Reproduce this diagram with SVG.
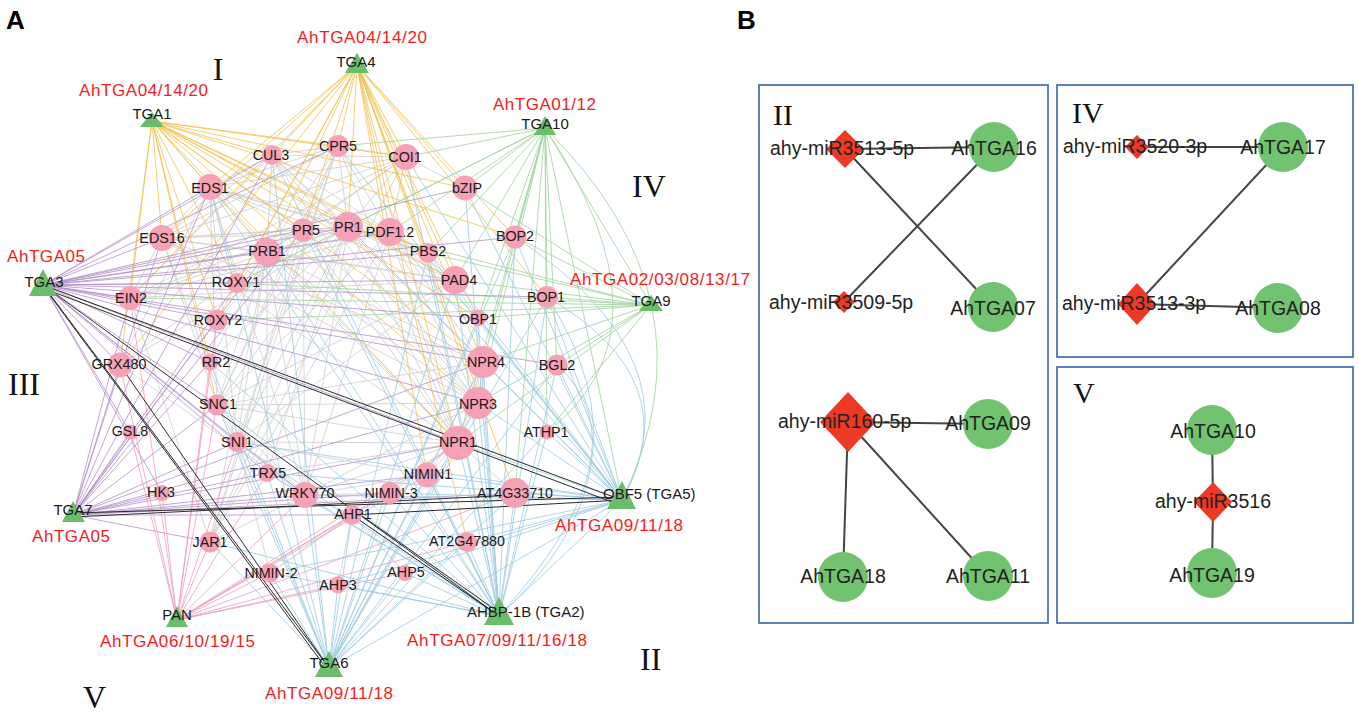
<svg xmlns="http://www.w3.org/2000/svg" width="1358" height="715" viewBox="0 0 1358 715">
<style>
.e{fill:none;stroke-width:0.9}
.gy{stroke:#d3d3d3}
.or{stroke:#f2bf48;stroke-opacity:.85}
.gr{stroke:#9fd49b;stroke-opacity:.9}
.pu{stroke:#b08ac8;stroke-opacity:.85}
.pk{stroke:#ec98ba;stroke-opacity:.85}
.bl{stroke:#9ccbe2;stroke-opacity:.9}
.bk{stroke:#2b2b2b;stroke-width:1}
.be{fill:none;stroke:#454545;stroke-width:2}
.p{fill:#f6a1b6}
.t{fill:#6cbd6a}
.c{fill:#71c36f}
.d{fill:#ee3a25}
.lb{font-family:"Liberation Sans",Arial,sans-serif;font-size:14.3px;fill:#1a1a1a;text-anchor:middle}
.tl{font-family:"Liberation Sans",Arial,sans-serif;font-size:15px;fill:#1a1a1a}
.rl{font-family:"Liberation Sans",Arial,sans-serif;font-size:17px;fill:#f41c1c}
.rn{font-family:"Liberation Serif","Times New Roman",serif;font-size:32px;fill:#111}
.bt{font-family:"Liberation Sans",Arial,sans-serif;font-size:19.5px;fill:#222}
.bm{font-family:"Liberation Sans",Arial,sans-serif;font-size:19.5px;fill:#222;text-anchor:middle}
.hd{font-family:"Liberation Sans",Arial,sans-serif;font-size:26px;font-weight:bold;fill:#000}
.box{fill:none;stroke:#4f74b5;stroke-width:1.8}
</style>
<rect width="1358" height="715" fill="#fff"/>
<text class="hd" x="6" y="29">A</text>
<text class="hd" x="737" y="29">B</text>
<g id="connectors">
<path class="e gy" d="M348 227L272 155M348 227L338 146M348 227L406 157M348 227L210 187M348 227L162 238M348 227L303 230M348 227L390 232M348 227L267 252M348 227L428 253M348 227L237 283M348 227L455 280M348 227L130 298M348 227L458 443M348 227L478 403M348 227L483 362M348 227L217 405M348 227L237 442M348 227L305 495M348 227L210 542M348 227L120 365M348 227L210 362M348 227L267 473M303 230L338 146M303 230L210 187M303 230L162 238M303 230L267 252M303 230L390 232M303 230L458 443M303 230L478 403M303 230L217 405M303 230L305 495M303 230L217 320M303 230L210 542M303 230L130 298M303 230L406 157M267 252L210 187M267 252L162 238M267 252L272 155M267 252L390 232M267 252L458 443M267 252L478 403M267 252L483 362M267 252L217 405M267 252L237 442M267 252L305 495M267 252L455 280M267 252L237 283M267 252L210 542M267 252L120 365M267 252L267 473M267 252L210 362M267 252L406 157M267 252L338 146M390 232L406 157M390 232L338 146M390 232L210 187M390 232L272 155M390 232L458 443M390 232L478 403M390 232L483 362M390 232L455 280M390 232L428 253M390 232L210 542M390 232L305 495M390 232L217 405M390 232L130 298M390 232L478 318M390 232L162 238M210 187L272 155M210 187L338 146M210 187L162 238M210 187L455 280M210 187L458 443M210 187L217 405M210 187L237 442M210 187L305 495M210 187L237 283M210 187L120 365M210 187L428 253M210 187L406 157M458 443L478 403M458 443L483 362M458 443L427 475M458 443L390 493M458 443L270 573M458 443L305 495M458 443L237 442M458 443L217 405M458 443L267 473M458 443L338 146M458 443L162 238M458 443L515 493M458 443L352 515M458 443L272 155M478 403L483 362M478 403L427 475M478 403L272 155M478 403L217 405M478 403L305 495M478 403L478 318M478 403L162 238M483 362L272 155M483 362L162 238M483 362L427 475M483 362L217 405M338 146L406 157M338 146L272 155M338 146L217 405M338 146L162 238M338 146L210 542M338 146L237 442M406 157L272 155M406 157L210 542M406 157L130 298M406 157L465 188M406 157L162 238M162 238L217 405M162 238L237 442M162 238L455 280M162 238L130 298M162 238L237 283M162 238L272 155M455 280L217 405M455 280L130 298M455 280L428 253M455 280L237 442M305 495L217 405M305 495L237 442M305 495L427 475M305 495L390 493M305 495L267 473M305 495L210 542M305 495L120 365M305 495L352 515M237 442L217 405M237 442L427 475M237 442L270 573M130 298L210 542M130 298L272 155M352 515L338 585M352 515L405 573M352 515L270 573"/>
<path class="e or" d="M152 121L272 155M152 121L338 146M152 121L406 157M152 121L210 187M152 121L465 188M152 121L162 238M152 121L303 230M152 121L348 227M152 121L390 232M152 121L267 252M152 121L515 237M152 121L428 253M152 121L237 283M152 121L455 280M152 121L130 298M152 121L217 320M152 121L483 362M152 121L120 365M152 121L210 362M152 121L478 403M152 121L458 443M152 121L217 405M152 121L478 318M357 65L272 155M357 65L210 187M357 65L162 238M357 65L303 230M357 65L348 227M357 65L390 232M357 65L267 252M357 65L338 146M357 65L406 157M357 65L465 188M357 65L428 253M357 65L455 280M357 65L515 237M357 65L547 297M357 65L237 283M357 65L217 320M357 65L130 298M357 65L120 365M357 65L458 443M357 65L478 403M357 65L483 362M357 65L478 318M357 65L467 542M357 65L515 493M357 65L427 475"/>
<path class="e gr" d="M545 128L465 188M545 128L406 157M545 128L348 227M545 128L390 232M545 128L515 237M545 128L547 297M545 128L455 280M545 128L478 318M545 128L483 362M545 128L478 403M545 128L458 443M545 128L557 365M545 128L547 432M545 128L428 253M545 128L651 305M545 128L622 500M545 128L515 493M545 128L237 283M545 128L338 146M545 128Q720 300 622 500M545 128Q680 330 547 432M651 305L547 297M651 305L515 237M651 305L557 365M651 305L478 318M651 305L483 362M651 305L478 403M651 305L455 280M651 305L458 443M651 305L428 253M651 305L465 188M651 305L547 432M651 305L237 283M651 305L348 227M651 305L217 320M651 305L130 298"/>
<path class="e pu" d="M43 285L162 238M43 285L210 187M43 285L272 155M43 285L267 252M43 285L303 230M43 285L348 227M43 285L237 283M43 285L130 298M43 285L217 320M43 285L120 365M43 285L210 362M43 285L217 405M43 285L237 442M43 285L130 432M43 285L465 188M43 285L390 232M43 285L455 280M43 285L547 297M43 285L478 318M43 285L483 362M43 285L557 365M43 285L478 403M43 285L458 443M43 285L267 473M43 285L305 495M43 285L162 493M43 285L515 237M43 285L428 253M43 285L338 146M73 515L120 365M73 515L130 432M73 515L130 298M73 515L162 238M73 515L162 493M73 515L267 473M73 515L305 495M73 515L237 442M73 515L217 405M73 515L210 362M73 515L217 320M73 515L390 493M73 515L427 475M73 515L352 515M73 515L458 443M73 515L478 403M73 515L515 493M73 515L267 252M73 515L237 283M73 515L210 542M73 515L483 362M73 515L210 187M73 515L303 230M73 515L272 155"/>
<path class="e pk" d="M177 620L162 493M177 620L210 542M177 620L270 573M177 620L130 432M177 620L120 365M177 620L237 442M177 620L267 473M177 620L305 495M177 620L338 585M177 620L352 515M177 620L390 493M177 620L427 475M177 620L217 405M177 620L210 362M177 620L217 320M177 620L405 573M177 620L467 542M177 620L458 443M177 620L130 298M177 620L515 493"/>
<path class="e bl" d="M329 668L270 573M329 668L338 585M329 668L405 573M329 668L352 515M329 668L305 495M329 668L390 493M329 668L427 475M329 668L458 443M329 668L478 403M329 668L483 362M329 668L515 493M329 668L467 542M329 668L267 473M329 668L237 442M329 668L217 405M329 668L210 542M329 668L547 297M329 668L557 365M329 668L547 432M329 668L478 318M329 668L455 280M329 668L272 155M329 668L210 187M329 668L210 362M329 668L622 500M329 668L428 253M329 668L515 237M499 616L458 443M499 616L478 403M499 616L483 362M499 616L515 493M499 616L467 542M499 616L405 573M499 616L338 585M499 616L427 475M499 616L390 493M499 616L352 515M499 616L305 495M499 616L267 473M499 616L237 442M499 616L217 405M499 616L547 297M499 616L515 237M499 616L547 432M499 616L557 365M499 616L478 318M499 616L455 280M499 616L428 253M499 616L270 573M499 616L210 362M499 616L272 155M499 616L210 187M499 616L267 252M499 616L303 230M499 616L406 157M499 616L465 188M499 616L210 542M622 500L547 297M622 500L515 237M622 500L483 362M622 500L478 403M622 500L458 443M622 500L547 432M622 500L557 365M622 500L515 493M622 500L427 475M622 500L390 493M622 500L467 542M622 500L405 573M622 500L305 495M622 500L478 318M622 500L455 280M622 500L428 253M622 500L465 188M622 500L406 157M622 500L390 232M622 500L348 227M622 500L267 473M622 500L237 442M622 500L338 585M622 500L270 573M622 500L338 146M622 500L499 616M622 500Q690 380 547 297M622 500Q700 360 515 237M499 616Q660 470 547 297M499 616Q650 450 557 365"/>
<path class="e bk" d="M43 285L622 500M45 289L620 505M43 285L499 616M43 285L329 668M46 290L326 668M120 365L329 668M73 513L622 497M73 517L515 495M352 515L622 500M352 515L499 616M355 511L497 611"/>
<path class="be" d="M845 149L994 147M845 149L993 307M844 302L994 147M848 422L988 424M848 422L843 577M848 422L988 576M1137 147L1283 147M1283 147L1137 304M1137 304L1278 308M1212 430L1213 502M1213 502L1212 573"/>
</g>
<g id="n-CUL3"><circle class="p" cx="272" cy="155" r="10"/><text class="lb" x="271" y="160">CUL3</text></g>
<g id="n-CPR5"><circle class="p" cx="338" cy="146" r="11"/><text class="lb" x="338" y="151">CPR5</text></g>
<g id="n-COI1"><circle class="p" cx="406" cy="157" r="13"/><text class="lb" x="405" y="162">COI1</text></g>
<g id="n-EDS1"><circle class="p" cx="210" cy="187" r="13"/><text class="lb" x="210" y="193">EDS1</text></g>
<g id="n-bZIP"><circle class="p" cx="465" cy="188" r="12.5"/><text class="lb" x="467" y="193">bZIP</text></g>
<g id="n-EDS16"><circle class="p" cx="162" cy="238" r="13"/><text class="lb" x="162" y="243">EDS16</text></g>
<g id="n-PR5"><circle class="p" cx="303" cy="230" r="11.5"/><text class="lb" x="306" y="235">PR5</text></g>
<g id="n-PR1"><circle class="p" cx="348" cy="227" r="15"/><text class="lb" x="348" y="232">PR1</text></g>
<g id="n-PDF1.2"><circle class="p" cx="390" cy="232" r="14"/><text class="lb" x="390" y="237">PDF1.2</text></g>
<g id="n-PRB1"><circle class="p" cx="267" cy="252" r="14"/><text class="lb" x="267" y="256">PRB1</text></g>
<g id="n-BOP2"><circle class="p" cx="515" cy="237" r="11.5"/><text class="lb" x="515" y="241">BOP2</text></g>
<g id="n-PBS2"><circle class="p" cx="428" cy="253" r="10"/><text class="lb" x="428" y="256">PBS2</text></g>
<g id="n-ROXY1"><circle class="p" cx="237" cy="283" r="10"/><text class="lb" x="236" y="287">ROXY1</text></g>
<g id="n-PAD4"><circle class="p" cx="455" cy="280" r="14"/><text class="lb" x="459" y="285">PAD4</text></g>
<g id="n-EIN2"><circle class="p" cx="130" cy="298" r="12"/><text class="lb" x="131" y="303">EIN2</text></g>
<g id="n-BOP1"><circle class="p" cx="547" cy="297" r="11"/><text class="lb" x="546" y="302">BOP1</text></g>
<g id="n-OBP1"><circle class="p" cx="478" cy="318" r="8.5"/><text class="lb" x="478" y="324">OBP1</text></g>
<g id="n-ROXY2"><circle class="p" cx="217" cy="320" r="10.5"/><text class="lb" x="218" y="325">ROXY2</text></g>
<g id="n-NPR4"><circle class="p" cx="483" cy="362" r="16"/><text class="lb" x="486" y="367">NPR4</text></g>
<g id="n-BGL2"><circle class="p" cx="557" cy="365" r="10.5"/><text class="lb" x="557" y="370">BGL2</text></g>
<g id="n-GRX480"><circle class="p" cx="120" cy="365" r="12.5"/><text class="lb" x="119" y="369">GRX480</text></g>
<g id="n-RR2"><circle class="p" cx="210" cy="362" r="8.5"/><text class="lb" x="216" y="367">RR2</text></g>
<g id="n-SNC1"><circle class="p" cx="217" cy="405" r="10.5"/><text class="lb" x="218" y="409">SNC1</text></g>
<g id="n-NPR3"><circle class="p" cx="478" cy="403" r="16"/><text class="lb" x="478" y="409">NPR3</text></g>
<g id="n-ATHP1"><circle class="p" cx="547" cy="432" r="7.5"/><text class="lb" x="546" y="437">ATHP1</text></g>
<g id="n-NPR1"><circle class="p" cx="458" cy="443" r="17"/><text class="lb" x="458" y="447">NPR1</text></g>
<g id="n-GSL8"><circle class="p" cx="130" cy="432" r="7.5"/><text class="lb" x="130" y="436">GSL8</text></g>
<g id="n-SNI1"><circle class="p" cx="237" cy="442" r="10"/><text class="lb" x="237" y="447">SNI1</text></g>
<g id="n-TRX5"><circle class="p" cx="267" cy="473" r="9"/><text class="lb" x="268" y="478">TRX5</text></g>
<g id="n-NIMIN1"><circle class="p" cx="427" cy="475" r="12.5"/><text class="lb" x="428" y="479">NIMIN1</text></g>
<g id="n-HK3"><circle class="p" cx="162" cy="493" r="8"/><text class="lb" x="161" y="497">HK3</text></g>
<g id="n-WRKY70"><circle class="p" cx="305" cy="495" r="13"/><text class="lb" x="305" y="498">WRKY70</text></g>
<g id="n-NIMIN-3"><circle class="p" cx="390" cy="493" r="11"/><text class="lb" x="391" y="498">NIMIN-3</text></g>
<g id="n-AT4G33710"><circle class="p" cx="515" cy="493" r="15"/><text class="lb" x="515" y="498">AT4G33710</text></g>
<g id="n-AHP1"><circle class="p" cx="352" cy="515" r="10"/><text class="lb" x="353" y="519">AHP1</text></g>
<g id="n-JAR1"><circle class="p" cx="210" cy="542" r="10.5"/><text class="lb" x="210" y="547">JAR1</text></g>
<g id="n-AT2G47880"><circle class="p" cx="467" cy="542" r="10"/><text class="lb" x="467" y="546">AT2G47880</text></g>
<g id="n-NIMIN-2"><circle class="p" cx="270" cy="573" r="9.5"/><text class="lb" x="271" y="578">NIMIN-2</text></g>
<g id="n-AHP3"><circle class="p" cx="338" cy="585" r="8.5"/><text class="lb" x="338" y="590">AHP3</text></g>
<g id="n-AHP5"><circle class="p" cx="405" cy="573" r="8"/><text class="lb" x="406" y="577">AHP5</text></g>
<g id="t-TGA4"><polygon class="t" points="357,53 369,73 345,73"/><text class="tl" x="356" y="67" text-anchor="middle">TGA4</text><text class="rl" x="297" y="43" textLength="130">AhTGA04/14/20</text></g>
<g id="t-TGA1"><polygon class="t" points="152,112 164,127 140,127"/><text class="tl" x="152" y="119" text-anchor="middle">TGA1</text><text class="rl" x="79" y="96" textLength="129">AhTGA04/14/20</text></g>
<g id="t-TGA10"><polygon class="t" points="545,116 556,135 534,135"/><text class="tl" x="545" y="129" text-anchor="middle">TGA10</text><text class="rl" x="493" y="110" textLength="103">AhTGA01/12</text></g>
<g id="t-TGA3"><polygon class="t" points="43,269 57,296 29,296"/><text class="tl" x="44" y="287" text-anchor="middle">TGA3</text><text class="rl" x="7" y="262" textLength="78">AhTGA05</text></g>
<g id="t-TGA9"><polygon class="t" points="651,295 663,311 639,311"/><text class="tl" x="651" y="306" text-anchor="middle">TGA9</text><text class="rl" x="570" y="285" textLength="180">AhTGA02/03/08/13/17</text></g>
<g id="t-TGA7"><polygon class="t" points="73,501 85,522 62,522"/><text class="tl" x="73" y="515" text-anchor="middle">TGA7</text><text class="rl" x="32" y="542" textLength="78">AhTGA05</text></g>
<g id="t-PAN"><polygon class="t" points="177,606 188,627 166,627"/><text class="tl" x="177" y="620" text-anchor="middle">PAN</text><text class="rl" x="100" y="647" textLength="155">AhTGA06/10/19/15</text></g>
<g id="t-TGA6"><polygon class="t" points="329,651 343,677 315,677"/><text class="tl" x="329" y="668" text-anchor="middle">TGA6</text><text class="rl" x="265" y="699" textLength="128">AhTGA09/11/18</text></g>
<g id="t-OBF5"><polygon class="t" points="622,481 636,509 607,509"/><text class="tl" x="603" y="499">OBF5 (TGA5)</text><text class="rl" x="555" y="531" textLength="128">AhTGA09/11/18</text></g>
<g id="t-AHBP-1B"><polygon class="t" points="499,597 514,625 484,625"/><text class="tl" x="467" y="617">AHBP-1B (TGA2)</text><text class="rl" x="407" y="646" textLength="180">AhTGA07/09/11/16/18</text></g>
<g id="roman-A">
<text class="rn" x="218" y="80" text-anchor="middle">I</text>
<text class="rn" x="632" y="197">IV</text>
<text class="rn" x="8" y="395">III</text>
<text class="rn" x="640" y="670">II</text>
<text class="rn" x="83" y="708">V</text>
</g>
<g id="box-II"><rect class="box" x="759" y="85" width="289" height="538"/><text class="rn" x="773" y="125" style="font-size:30px">II</text></g>
<g id="box-IV"><rect class="box" x="1057" y="85" width="296" height="272"/><text class="rn" x="1072" y="123" style="font-size:30px">IV</text></g>
<g id="box-V"><rect class="box" x="1057" y="367" width="296" height="256"/><text class="rn" x="1073" y="403" style="font-size:30px">V</text></g>
<g id="b-miR3513-5p"><polygon class="d" points="845,130 864,149 845,168 826,149"/><text class="bt" x="770" y="155">ahy-miR3513-5p</text></g>
<g id="b-AhTGA16"><circle class="c" cx="994" cy="147" r="25"/><text class="bm" x="994" y="155">AhTGA16</text></g>
<g id="b-miR3509-5p"><polygon class="d" points="844,291 855,302 844,313 833,302"/><text class="bt" x="769" y="309">ahy-miR3509-5p</text></g>
<g id="b-AhTGA07"><circle class="c" cx="993" cy="307" r="25"/><text class="bm" x="993" y="315">AhTGA07</text></g>
<g id="b-miR160-5p"><polygon class="d" points="848,392 876,422 848,452 820,422"/><text class="bt" x="778" y="428">ahy-miR160-5p</text></g>
<g id="b-AhTGA09"><circle class="c" cx="988" cy="424" r="25"/><text class="bm" x="988" y="430">AhTGA09</text></g>
<g id="b-AhTGA18"><circle class="c" cx="843" cy="577" r="25"/><text class="bm" x="843" y="583">AhTGA18</text></g>
<g id="b-AhTGA11"><circle class="c" cx="988" cy="576" r="25"/><text class="bm" x="988" y="583">AhTGA11</text></g>
<g id="b-miR3520-3p"><polygon class="d" points="1137,135 1149,147 1137,159 1125,147"/><text class="bt" x="1063" y="153">ahy-miR3520-3p</text></g>
<g id="b-AhTGA17"><circle class="c" cx="1283" cy="147" r="25"/><text class="bm" x="1283" y="154">AhTGA17</text></g>
<g id="b-miR3513-3p"><polygon class="d" points="1137,283 1156,304 1137,325 1118,304"/><text class="bt" x="1062" y="310">ahy-miR3513-3p</text></g>
<g id="b-AhTGA08"><circle class="c" cx="1278" cy="308" r="25"/><text class="bm" x="1278" y="315">AhTGA08</text></g>
<g id="b-AhTGA10"><circle class="c" cx="1212" cy="430" r="25"/><text class="bm" x="1213" y="438">AhTGA10</text></g>
<g id="b-miR3516"><polygon class="d" points="1213,482 1232,502 1213,522 1194,502"/><text class="bm" x="1213" y="508">ahy-miR3516</text></g>
<g id="b-AhTGA19"><circle class="c" cx="1212" cy="573" r="25"/><text class="bm" x="1212" y="582">AhTGA19</text></g>
</svg>
